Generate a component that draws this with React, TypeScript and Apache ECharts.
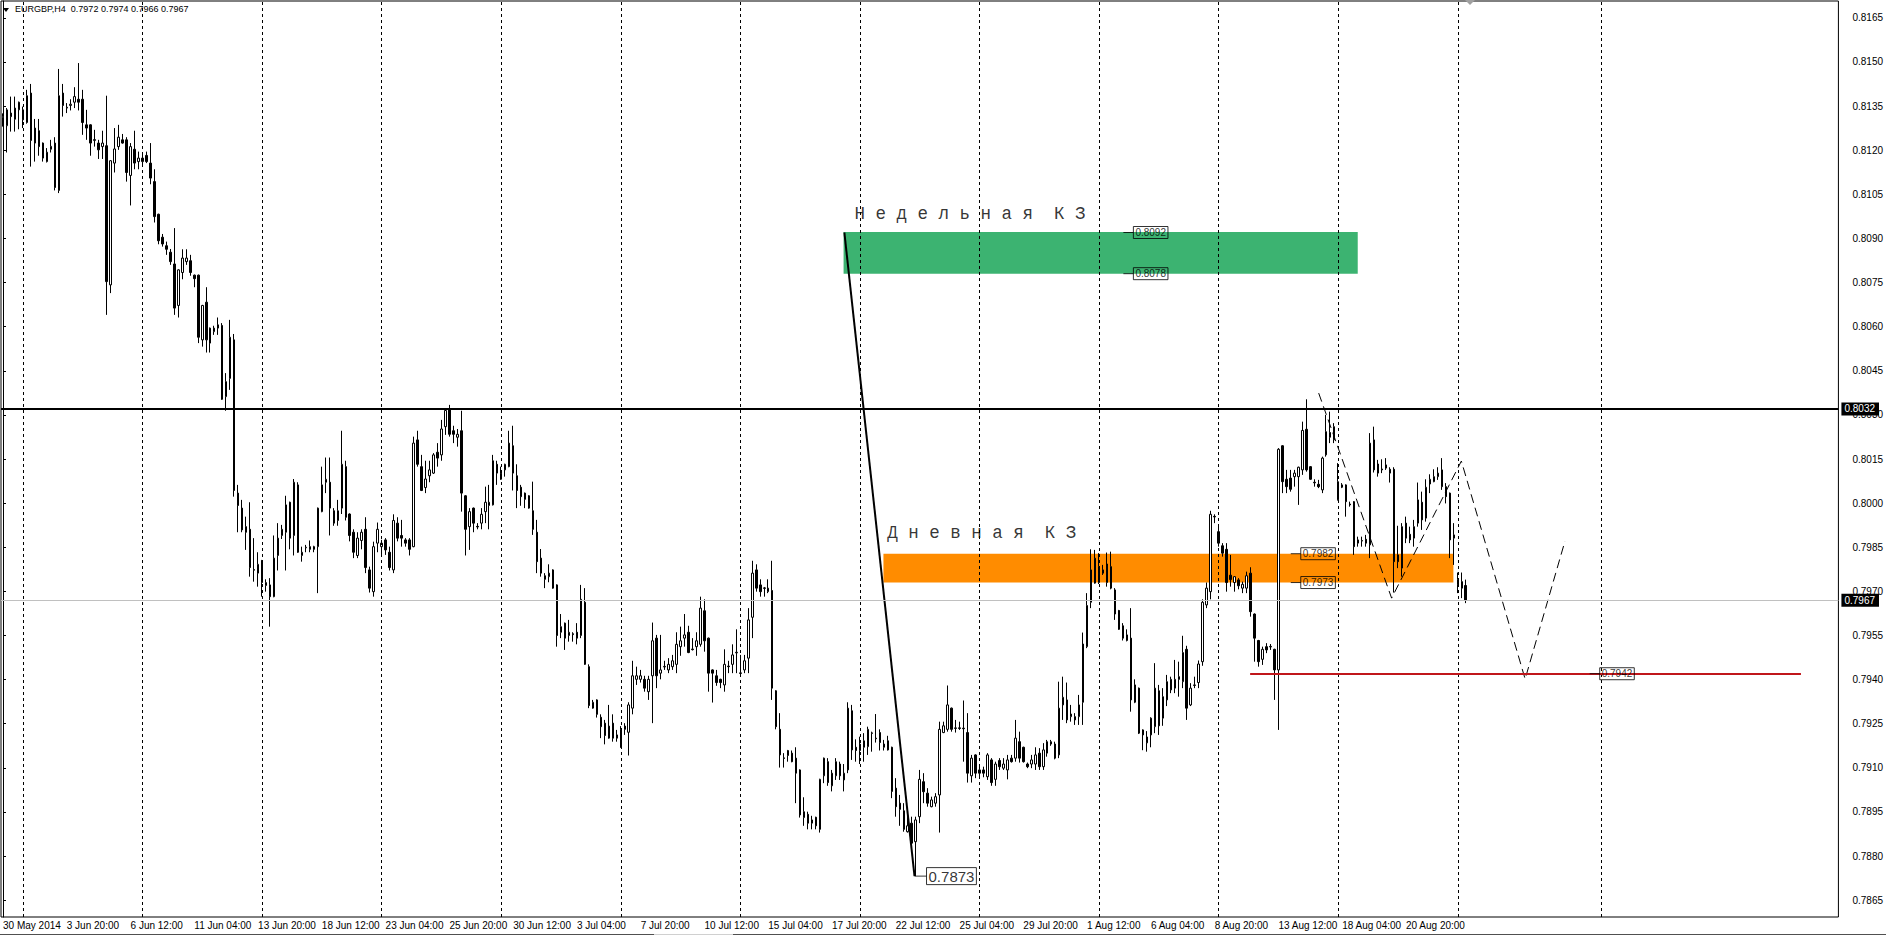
import React, { useEffect, useRef } from "react";
import * as echarts from "echarts";

// EURGBP H4 bars, [open, high, low, close] in pips (price x 10000), first bar 30 May 2014 04:00
const bars: number[][] = [
  [8131, 8132.5, 8128, 8131.5], [8128.3, 8134.3, 8119.2, 8133.7], [8132.6, 8138.2, 8126.3, 8131.4], [8130.5, 8138.2, 8126.3, 8134.3],
  [8133.7, 8136.5, 8127.1, 8136.3], [8133.7, 8134.8, 8127.5, 8130.3], [8129.4, 8140.5, 8129.0, 8138.5], [8139.4, 8142.5, 8114.4, 8123.3],
  [8122.4, 8130.6, 8116.1, 8127.5], [8126.6, 8130.6, 8118.1, 8121.2], [8122.4, 8122.6, 8116.1, 8117.3], [8116.1, 8120.7, 8115.8, 8119.3],
  [8120.3, 8123.5, 8119.2, 8121.3], [8122.4, 8124.4, 8106.3, 8107.3], [8106.3, 8147.6, 8105.4, 8138.5], [8139.4, 8142.5, 8131.4, 8135.2],
  [8134.3, 8136.0, 8132.6, 8134.6], [8135.2, 8137.3, 8133.5, 8135.6], [8136.3, 8141.4, 8134.3, 8138.2], [8137.3, 8149.6, 8133.5, 8136.3],
  [8137.3, 8140.5, 8125.2, 8129.4], [8128.6, 8133.7, 8123.5, 8127.5], [8128.6, 8128.8, 8118.1, 8122.4], [8123.3, 8126.9, 8121.2, 8123.6],
  [8122.4, 8123.5, 8117.0, 8120.1], [8121.2, 8126.6, 8117.0, 8122.4], [8121.5, 8138.5, 8064.0, 8075.3], [8074.2, 8116.6, 8071.4, 8116.4],
  [8115.6, 8127.5, 8112.4, 8120.4], [8121.2, 8128.6, 8120.1, 8124.4], [8123.5, 8125.5, 8122.2, 8122.4], [8123.5, 8124.4, 8109.3, 8112.4],
  [8111.4, 8122.4, 8101.2, 8121.2], [8120.3, 8126.6, 8113.5, 8115.6], [8116.1, 8119.5, 8113.5, 8117.3], [8116.1, 8118.4, 8115.2, 8117.3],
  [8118.2, 8119.5, 8115.6, 8116.1], [8115.6, 8122.4, 8108.4, 8110.5], [8109.3, 8113.5, 8095.4, 8097.4], [8098.2, 8098.4, 8088.0, 8089.2],
  [8090.4, 8091.5, 8087.2, 8088.1], [8087.5, 8088.9, 8084.4, 8086.3], [8085.3, 8086.4, 8081.0, 8082.1], [8081.3, 8093.5, 8064.0, 8066.3],
  [8067.2, 8079.5, 8063.1, 8079.3], [8078.4, 8086.3, 8076.1, 8083.3], [8082.1, 8086.3, 8081.0, 8083.3], [8082.4, 8084.4, 8077.3, 8078.4],
  [8077.5, 8077.7, 8073.4, 8076.3], [8077.5, 8077.7, 8054.4, 8056.4], [8055.5, 8067.4, 8053.2, 8067.2], [8068.3, 8073.4, 8051.2, 8055.5],
  [8054.4, 8059.7, 8051.2, 8059.5], [8058.3, 8060.3, 8057.2, 8059.5], [8060.6, 8063.1, 8057.2, 8059.5], [8060.4, 8061.2, 8035.1, 8035.3],
  [8036.2, 8044.2, 8031.4, 8041.3], [8042.4, 8062.3, 8038.5, 8056.4], [8055.5, 8057.5, 8002.2, 8004.3], [8003.4, 8006.2, 7990.1, 7999.2],
  [7998.3, 8001.1, 7990.1, 7990.9], [7992.0, 7995.4, 7984.1, 7990.1], [7991.1, 8000.3, 7975.0, 7978.1], [7977.4, 7988.1, 7973.3, 7977.2],
  [7976.2, 7983.3, 7971.6, 7979.2], [7980.4, 7980.7, 7968.2, 7973.0], [7972.0, 7974.1, 7969.9, 7973.0], [7972.2, 7974.5, 7958.0, 7968.2],
  [7968.2, 7989.0, 7968.0, 7981.3], [7982.2, 7993.2, 7977.1, 7988.1], [7989.0, 7992.6, 7987.8, 7991.1], [7990.1, 8002.5, 7977.1, 7999.4],
  [8000.3, 8000.5, 7984.3, 7988.1], [7989.0, 8008.2, 7982.2, 8007.1], [8006.2, 8007.1, 7983.1, 7983.3], [7982.2, 7985.2, 7980.1, 7983.3],
  [7984.8, 7985.8, 7983.3, 7985.0], [7985.2, 7987.3, 7983.3, 7984.3], [7985.2, 7985.5, 7983.3, 7984.3], [7985.2, 7998.5, 7969.4, 7998.3],
  [7997.1, 8012.4, 7996.9, 8006.2], [8007.1, 8015.5, 8003.4, 8008.1], [8007.1, 8015.5, 7989.0, 7998.3], [7997.4, 7998.3, 7992.3, 7993.2],
  [7994.1, 8001.1, 7992.3, 7997.4], [7998.3, 8024.6, 7996.3, 8013.2], [8012.4, 8014.4, 7994.1, 7995.2], [7996.3, 7996.5, 7987.0, 7989.0],
  [7990.1, 7991.1, 7981.3, 7983.3], [7982.2, 7990.1, 7981.3, 7988.1], [7987.3, 7991.1, 7984.3, 7990.1], [7991.1, 7995.2, 7976.2, 7978.1],
  [7977.3, 7978.4, 7969.6, 7971.1], [7969.9, 7986.9, 7968.2, 7985.2], [7986.4, 7993.4, 7983.3, 7991.1], [7985.2, 7987.5, 7982.4, 7986.4],
  [7987.5, 7988.1, 7982.4, 7984.1], [7983.3, 7985.2, 7977.1, 7978.1], [7977.3, 7996.2, 7976.2, 7994.1], [7993.2, 7995.2, 7987.0, 7988.1],
  [7989.0, 7994.3, 7985.2, 7988.1], [7987.5, 7988.1, 7985.2, 7986.4], [7987.5, 7988.1, 7982.2, 7984.3], [7985.2, 8022.6, 7985.0, 8020.4],
  [8021.5, 8024.6, 8012.4, 8013.2], [8012.4, 8016.4, 8004.1, 8004.3], [8005.3, 8014.4, 8003.4, 8008.2], [8009.3, 8014.4, 8007.1, 8011.3],
  [8010.2, 8017.0, 8009.9, 8016.4], [8017.3, 8020.4, 8012.4, 8015.3], [8016.4, 8028.3, 8014.4, 8025.2], [8026.0, 8032.3, 8023.2, 8031.5],
  [8031.7, 8033.4, 8022.6, 8023.4], [8024.6, 8026.3, 8020.4, 8023.4], [8022.4, 8025.2, 8019.2, 8023.4], [8024.6, 8031.4, 7997.1, 8003.4],
  [8002.5, 8002.7, 7982.2, 7991.1], [7992.0, 7998.3, 7984.1, 7997.1], [7998.3, 7998.5, 7990.1, 7993.2], [7992.1, 7993.2, 7991.1, 7991.9],
  [7993.2, 7998.3, 7991.1, 7996.2], [7997.1, 8005.6, 7993.2, 8000.3], [7999.2, 8006.2, 7991.1, 8000.3], [7999.4, 8016.4, 7999.2, 8014.4],
  [8013.2, 8014.4, 8006.2, 8010.2], [8008.1, 8012.4, 8007.9, 8010.2], [8011.3, 8013.4, 8009.0, 8013.2], [8012.4, 8024.6, 8012.2, 8020.4],
  [8019.5, 8026.3, 8004.3, 8010.2], [8009.3, 8013.2, 7998.3, 8004.3], [8005.4, 8006.2, 7999.1, 8002.2], [8003.4, 8003.6, 7998.3, 8001.3],
  [8002.5, 8002.7, 7998.1, 7998.3], [7997.4, 8007.3, 7989.2, 7991.1], [7990.1, 7994.3, 7976.2, 7980.1], [7981.3, 7984.4, 7975.0, 7976.2],
  [7975.3, 7976.2, 7971.1, 7974.1], [7975.0, 7979.2, 7973.1, 7976.2], [7977.3, 7977.5, 7970.9, 7971.1], [7972.2, 7972.4, 7951.2, 7955.0],
  [7956.1, 7962.3, 7954.1, 7958.0], [7959.2, 7959.4, 7950.1, 7954.1], [7955.0, 7960.3, 7952.9, 7956.1], [7955.6, 7956.1, 7952.9, 7955.3],
  [7956.1, 7959.2, 7952.0, 7954.1], [7955.0, 7972.2, 7954.1, 7967.3], [7966.3, 7971.1, 7945.0, 7945.2], [7944.4, 7945.2, 7930.3, 7931.2],
  [7930.3, 7933.1, 7930.1, 7932.3], [7933.1, 7933.3, 7927.1, 7928.2], [7927.2, 7928.2, 7920.1, 7924.0], [7925.2, 7926.3, 7918.0, 7921.0],
  [7920.1, 7931.4, 7919.9, 7924.2], [7925.2, 7928.2, 7918.9, 7920.1], [7921.2, 7922.9, 7918.9, 7920.1], [7917.0, 7924.2, 7916.8, 7923.1],
  [7924.2, 7925.2, 7921.2, 7923.1], [7922.1, 7932.3, 7914.2, 7931.4], [7930.3, 7946.4, 7928.2, 7941.3], [7940.1, 7944.4, 7938.2, 7941.3],
  [7940.1, 7943.3, 7939.0, 7941.3], [7940.1, 7941.3, 7935.9, 7937.1], [7935.9, 7941.3, 7933.1, 7940.1], [7941.3, 7959.4, 7925.2, 7953.2],
  [7954.1, 7955.2, 7937.1, 7941.3], [7942.2, 7955.2, 7940.1, 7943.3], [7944.3, 7946.4, 7943.3, 7944.5], [7943.3, 7947.3, 7942.2, 7945.2],
  [7944.4, 7948.4, 7943.3, 7946.4], [7945.2, 7956.1, 7942.2, 7952.0], [7951.2, 7958.0, 7948.1, 7953.2], [7954.1, 7962.3, 7951.2, 7955.2],
  [7956.1, 7958.3, 7949.0, 7949.2], [7950.4, 7954.1, 7949.9, 7950.2], [7951.2, 7956.1, 7948.1, 7953.2], [7952.0, 7968.2, 7951.2, 7964.3],
  [7963.4, 7967.3, 7949.5, 7953.2], [7954.1, 7954.3, 7935.9, 7942.2], [7943.3, 7943.5, 7932.2, 7942.2], [7941.3, 7943.3, 7937.9, 7939.0],
  [7940.1, 7940.3, 7937.1, 7939.0], [7938.2, 7950.3, 7935.9, 7945.2], [7944.6, 7946.4, 7942.2, 7944.4], [7945.2, 7952.0, 7942.2, 7948.4],
  [7949.1, 7957.1, 7942.2, 7949.3], [7942.1, 7948.4, 7941.0, 7942.3], [7943.3, 7948.4, 7942.2, 7946.4], [7947.3, 7964.3, 7942.2, 7960.3],
  [7961.2, 7980.4, 7954.1, 7976.2], [7977.3, 7979.2, 7969.9, 7971.1], [7972.2, 7974.1, 7968.2, 7969.9], [7971.0, 7971.5, 7968.2, 7971.2],
  [7969.9, 7974.1, 7969.4, 7971.1], [7970.3, 7980.4, 7933.1, 7937.1], [7936.2, 7936.4, 7923.1, 7924.0], [7923.1, 7928.6, 7910.1, 7914.4],
  [7913.4, 7915.0, 7910.1, 7913.2], [7914.2, 7916.1, 7912.1, 7915.9], [7915.0, 7915.9, 7911.9, 7912.1], [7913.3, 7917.0, 7898.0, 7908.2],
  [7909.3, 7909.5, 7893.1, 7894.0], [7893.1, 7900.0, 7890.3, 7895.1], [7894.2, 7895.1, 7889.1, 7891.2], [7891.2, 7893.7, 7889.1, 7892.3],
  [7893.2, 7893.4, 7889.1, 7890.3], [7889.1, 7906.3, 7888.0, 7906.1], [7907.3, 7913.5, 7904.8, 7913.3], [7912.1, 7913.3, 7903.9, 7905.0],
  [7903.9, 7909.3, 7902.0, 7908.2], [7907.3, 7913.3, 7905.9, 7912.1], [7911.3, 7912.1, 7905.9, 7907.3], [7905.9, 7911.3, 7902.0, 7908.2],
  [7909.3, 7932.3, 7908.2, 7930.3], [7929.4, 7931.4, 7912.7, 7916.1], [7917.0, 7919.7, 7912.1, 7915.9], [7915.9, 7920.6, 7911.3, 7918.1],
  [7917.0, 7921.8, 7912.1, 7919.2], [7917.2, 7924.0, 7914.4, 7923.1], [7921.7, 7922.3, 7915.5, 7921.9], [7920.1, 7928.3, 7918.6, 7919.9],
  [7922.0, 7923.1, 7915.9, 7918.6], [7917.0, 7919.5, 7915.9, 7918.1], [7919.2, 7920.9, 7915.9, 7916.1], [7917.0, 7917.2, 7899.7, 7902.0],
  [7903.1, 7906.5, 7893.4, 7896.8], [7898.0, 7900.8, 7890.3, 7895.9], [7895.4, 7898.0, 7888.3, 7889.1], [7888.3, 7894.6, 7888.0, 7890.3],
  [7891.2, 7893.4, 7883.8, 7884.4], [7884.9, 7893.4, 7873.2, 7892.3], [7893.4, 7909.3, 7891.2, 7906.1], [7905.3, 7908.2, 7898.0, 7901.9],
  [7901.4, 7903.1, 7896.8, 7898.0], [7896.8, 7900.2, 7896.6, 7899.1], [7898.0, 7901.4, 7896.8, 7900.2], [7900.8, 7925.7, 7888.0, 7923.1],
  [7922.0, 7925.7, 7921.8, 7924.3], [7923.1, 7938.0, 7922.3, 7931.4], [7930.3, 7930.5, 7922.3, 7923.1], [7923.4, 7926.3, 7922.0, 7923.6],
  [7923.6, 7925.7, 7922.9, 7923.4], [7923.5, 7932.9, 7912.1, 7923.3], [7922.0, 7928.6, 7905.0, 7908.2], [7907.3, 7914.4, 7905.0, 7913.3],
  [7914.4, 7914.6, 7906.5, 7908.2], [7909.3, 7910.4, 7907.0, 7908.2], [7909.3, 7910.4, 7906.8, 7908.2], [7907.0, 7915.0, 7905.9, 7914.4],
  [7912.7, 7913.3, 7903.9, 7905.0], [7906.1, 7912.1, 7903.9, 7911.3], [7912.5, 7913.3, 7909.3, 7910.4], [7909.9, 7913.3, 7909.3, 7911.3],
  [7909.3, 7914.4, 7906.1, 7912.7], [7913.3, 7914.4, 7911.8, 7912.1], [7913.3, 7926.3, 7912.1, 7920.1], [7918.9, 7922.3, 7911.8, 7913.3],
  [7917.0, 7917.2, 7911.8, 7912.1], [7911.3, 7911.8, 7909.9, 7910.4], [7911.3, 7914.4, 7909.9, 7912.7], [7911.3, 7917.0, 7909.3, 7914.4],
  [7915.0, 7916.7, 7909.3, 7910.4], [7910.4, 7918.4, 7909.3, 7916.1], [7915.0, 7919.5, 7913.8, 7918.9], [7918.1, 7919.5, 7917.5, 7918.9],
  [7918.1, 7918.9, 7912.9, 7913.3], [7914.4, 7939.3, 7913.3, 7930.3], [7931.4, 7941.0, 7926.3, 7934.0], [7933.1, 7939.0, 7925.2, 7926.3],
  [7927.4, 7931.4, 7925.7, 7928.3], [7927.4, 7928.6, 7924.6, 7926.3], [7927.4, 7934.8, 7924.6, 7931.4], [7932.3, 7956.0, 7924.6, 7952.1],
  [7951.2, 7969.4, 7950.7, 7965.2], [7966.3, 7984.3, 7964.3, 7977.3], [7972.8, 7984.1, 7972.6, 7981.3], [7973.0, 7983.0, 7972.5, 7978.4],
  [7977.3, 7979.0, 7975.6, 7976.2], [7973.0, 7983.2, 7971.6, 7979.3], [7978.4, 7983.5, 7970.7, 7971.1], [7970.5, 7971.1, 7960.3, 7962.3],
  [7963.5, 7963.7, 7956.9, 7957.1], [7958.3, 7959.2, 7953.3, 7954.1], [7953.3, 7957.1, 7953.0, 7955.2], [7954.1, 7964.3, 7929.1, 7933.1],
  [7932.3, 7940.1, 7932.0, 7938.2], [7937.1, 7937.3, 7921.5, 7921.8], [7922.9, 7923.1, 7916.0, 7921.2], [7918.5, 7922.5, 7915.5, 7920.5],
  [7921.2, 7927.2, 7917.0, 7926.9], [7924.0, 7945.6, 7921.8, 7937.1], [7936.2, 7938.2, 7921.2, 7924.3], [7926.9, 7937.1, 7924.3, 7934.2],
  [7933.1, 7941.6, 7931.0, 7939.3], [7936.5, 7941.0, 7935.4, 7940.1], [7937.1, 7946.7, 7935.4, 7940.1], [7941.0, 7946.1, 7934.2, 7940.1],
  [7939.3, 7954.9, 7937.1, 7949.2], [7950.3, 7951.5, 7926.3, 7930.3], [7931.4, 7938.8, 7931.0, 7937.1], [7938.0, 7941.0, 7937.1, 7938.2],
  [7939.0, 7946.5, 7937.1, 7945.3], [7946.1, 7967.3, 7944.7, 7966.3], [7965.4, 7973.0, 7964.3, 7971.1], [7969.9, 7997.4, 7967.3, 7996.2],
  [7995.5, 7996.2, 7993.2, 7995.3], [7990.3, 7992.0, 7985.2, 7986.4], [7985.5, 7986.4, 7981.8, 7983.0], [7984.3, 7986.4, 7969.9, 7973.0],
  [7975.5, 7982.4, 7971.6, 7974.0], [7973.0, 7975.2, 7969.9, 7975.0], [7973.9, 7974.5, 7970.7, 7971.9], [7971.1, 7973.3, 7969.4, 7972.4],
  [7971.1, 7976.7, 7969.4, 7975.3], [7976.2, 7978.2, 7961.4, 7963.1], [7962.3, 7962.5, 7946.1, 7954.1], [7953.3, 7953.5, 7944.4, 7946.1],
  [7946.9, 7951.2, 7945.0, 7950.3], [7951.2, 7952.4, 7949.0, 7950.1], [7951.1, 7952.1, 7950.1, 7951.3], [7950.3, 7950.5, 7933.1, 7943.3],
  [7943.3, 8018.7, 7922.9, 8018.3], [8019.5, 8019.7, 8003.4, 8007.3], [8008.1, 8011.3, 8003.4, 8005.6], [8008.5, 8011.3, 8003.9, 8004.7],
  [8009.0, 8011.3, 8005.6, 8010.2], [8009.0, 8012.4, 7999.4, 8012.2], [8011.3, 8027.7, 8009.6, 8024.7], [8025.1, 8035.3, 8010.7, 8011.3],
  [8012.4, 8012.6, 8007.9, 8008.1], [8007.1, 8008.1, 8005.6, 8006.9], [8006.4, 8007.9, 8005.1, 8005.6], [8004.5, 8015.8, 8003.4, 8015.3],
  [8016.4, 8030.0, 8015.8, 8024.3], [8024.0, 8031.1, 8020.4, 8022.4], [8021.5, 8027.2, 8020.4, 8026.0], [8001.1, 8013.6, 8000.9, 8007.3],
  [8006.2, 8006.8, 8005.1, 8005.4], [8006.2, 8006.4, 7995.4, 8000.5], [7999.7, 8000.5, 7998.8, 7999.4], [8000.5, 8000.7, 7982.4, 7985.2],
  [7986.4, 7988.6, 7985.2, 7987.5], [7987.1, 7988.6, 7985.2, 7987.3], [7987.7, 7989.2, 7985.2, 7986.4], [7985.8, 8023.8, 7981.3, 8020.4],
  [8021.5, 8026.0, 8010.4, 8011.3], [8010.2, 8014.7, 8009.0, 8013.3], [8011.3, 8014.9, 8010.2, 8011.6], [8013.0, 8015.3, 8011.3, 8011.9],
  [8011.5, 8012.2, 8007.0, 8010.2], [8011.5, 8012.2, 7969.6, 7980.1], [7982.4, 7992.3, 7977.9, 7980.1], [7977.9, 7993.2, 7975.0, 7992.0],
  [7993.2, 7995.4, 7986.4, 7988.1], [7989.4, 7992.0, 7986.4, 7987.5], [7988.1, 7994.3, 7985.2, 7992.0], [7993.2, 8007.0, 7992.0, 8001.1],
  [8000.3, 8003.9, 7990.9, 7994.3], [7994.9, 8008.1, 7993.7, 8005.4], [8006.5, 8009.8, 8003.4, 8008.1], [8007.3, 8011.5, 8007.1, 8009.0],
  [8009.0, 8012.2, 8007.9, 8010.2], [8011.3, 8015.3, 8004.5, 8005.6], [8005.6, 8006.8, 7999.9, 8002.2], [8003.4, 8003.6, 7981.3, 7987.5],
  [7988.1, 7993.2, 7979.0, 7989.2], [7972.2, 7976.4, 7969.4, 7974.1], [7973.3, 7976.4, 7967.7, 7971.1], [7972, 7974, 7966, 7967],
];

const SLOT_COUNT = 461; // bar slots on the time axis (real bars + right shift)
const LABEL_STEP = 16;
const timeLabels = [
  "30 May 2014", "3 Jun 20:00", "6 Jun 12:00", "11 Jun 04:00", "13 Jun 20:00", "18 Jun 12:00", "23 Jun 04:00",
  "25 Jun 20:00", "30 Jun 12:00", "3 Jul 04:00", "7 Jul 20:00", "10 Jul 12:00", "15 Jul 04:00", "17 Jul 20:00",
  "22 Jul 12:00", "25 Jul 04:00", "29 Jul 20:00", "1 Aug 12:00", "6 Aug 04:00", "8 Aug 20:00", "13 Aug 12:00",
  "18 Aug 04:00", "20 Aug 20:00",
];
const priceTicks = [
  0.7865, 0.788, 0.7895, 0.791, 0.7925, 0.794, 0.7955, 0.797, 0.7985, 0.8, 0.8015,
  0.803, 0.8045, 0.806, 0.8075, 0.809, 0.8105, 0.812, 0.8135, 0.815, 0.8165,
];
const weekSeparators = [5, 35, 65, 95, 125, 155, 185, 215, 245, 275, 305, 335, 365, 401];
const weeklyZone = [210.9, 339.9, 0.80922, 0.8078];
const dailyZone = [220.9, 363.9, 0.79828, 0.7973];
const resistanceLevel = 0.8032;
const bidLevel = 0.7967;
const targetLine = [312.9, 451.1, 0.7942];
const trendLine = [[211.1, 0.8092], [228.7, 0.78732]];
const projectionPath = [[330.1, 0.80374], [348.4, 0.79677], [365.9, 0.80143], [381.9, 0.79402], [391.9, 0.79871]];
const priceTags: [number, number, string][] = [
  [281.1, 0.8092, "0.8092"], [281.1, 0.8078, "0.8078"], [323.1, 0.79828, "0.7982"],
  [323.1, 0.7973, "0.7973"], [398.1, 0.7942, "0.7942"],
];
const lowTag: [number, number, string] = [228.7, 0.78732, "0.7873"];
const zoneTitles: [number, number, string][] = [
  [213.5, 0.80983, "Н е д е л ь н а я  К З"],
  [221.75, 0.79898, "Д н е в н а я  К З"],
];

const SANS = '"Liberation Sans", Arial, sans-serif';

export default function App() {
  const ref = useRef<HTMLDivElement>(null);
  useEffect(() => {
    if (!ref.current) return;
    const chart = echarts.init(ref.current, null, { renderer: "svg" });
    const slots = Array.from({ length: SLOT_COUNT }, (_, i) => String(i));
    const candles = bars.map(([o, h, l, c]) => [o / 1e4, c / 1e4, l / 1e4, h / 1e4]);
    const last = bars[bars.length - 1];
    const header = "EURGBP,H4  " + last.map((v) => (v / 1e4).toFixed(4)).join(" ");

    const tagItem = (x: number, y: number, text: string, len: number, fs: number) => ({
      value: [x, y],
      symbol: "rect",
      symbolSize: [len, 1],
      symbolOffset: [len / 2, 0],
      itemStyle: { color: "#000" },
      label: {
        show: true,
        position: "right",
        distance: 0,
        formatter: text,
        color: "#000",
        fontSize: fs,
        fontFamily: SANS,
        borderColor: "#000",
        borderWidth: 1,
        padding: [1, 2, 0, 2],
        lineHeight: fs + 1,
      },
    });

    const axisTag = (text: string) => ({
      show: true,
      position: "end",
      distance: 3,
      formatter: text,
      color: "#fff",
      backgroundColor: "#000",
      padding: [2, 4, 1, 3],
      fontSize: 10,
      fontFamily: SANS,
    });

    chart.setOption({
      animation: false,
      backgroundColor: "#fff",
      grid: { left: -2.5, top: 1, width: SLOT_COUNT * 4, height: 916, show: true, borderColor: "#000", borderWidth: 1, backgroundColor: "transparent" },
      xAxis: [
        {
          type: "category",
          data: slots,
          boundaryGap: true,
          axisLine: { show: false },
          axisTick: { show: false },
          splitLine: { show: false },
          axisLabel: {
            interval: (idx: number) => idx % LABEL_STEP === 0 && idx / LABEL_STEP < timeLabels.length,
            formatter: (_v: string, idx: number) => timeLabels[idx / LABEL_STEP] ?? "",
            align: "left",
            margin: 3,
            fontSize: 10,
            fontFamily: SANS,
            color: "#000",
          },
        },
        { type: "value", min: -0.5, max: SLOT_COUNT - 0.5, show: false },
      ],
      yAxis: {
        type: "value",
        position: "right",
        min: 0.78593,
        max: 0.81707,
        splitLine: { show: false },
        axisLine: { show: true, lineStyle: { color: "#000" } },
        axisTick: { show: true, length: 3, customValues: priceTicks, lineStyle: { color: "#000" } },
        axisLabel: {
          customValues: priceTicks,
          formatter: (v: number) => v.toFixed(4),
          margin: 14,
          fontSize: 10,
          fontFamily: SANS,
          color: "#000",
        },
      },
      series: [
        {
          type: "line",
          xAxisIndex: 1,
          data: [],
          z: 1,
          silent: true,
          markArea: {
            silent: true,
            data: [
              [{ coord: [weeklyZone[0], weeklyZone[2]], itemStyle: { color: "#3CB371", opacity: 1 } }, { coord: [weeklyZone[1], weeklyZone[3]] }],
              [{ coord: [dailyZone[0], dailyZone[2]], itemStyle: { color: "#FF8C00", opacity: 1 } }, { coord: [dailyZone[1], dailyZone[3]] }],
            ],
          },
        },
        {
          type: "line",
          xAxisIndex: 1,
          data: [],
          z: 2,
          silent: true,
          markLine: {
            silent: true,
            precision: 5,
            symbol: ["none", "none"],
            label: { show: false },
            lineStyle: { color: "#000", width: 1, type: [3, 3] },
            data: weekSeparators.map((x) => ({ xAxis: x })),
          },
        },
        {
          type: "candlestick",
          z: 3,
          data: candles,
          barWidth: 2,
          itemStyle: { color: "#fff", color0: "#000", borderColor: "#000", borderColor0: "#000", borderColorDoji: "#000", borderWidth: 1 },
        },
        {
          type: "line",
          xAxisIndex: 1,
          z: 4,
          data: trendLine,
          symbol: "none",
          silent: true,
          lineStyle: { color: "#000", width: 2 },
          markLine: {
            silent: true,
            precision: 5,
            symbol: ["none", "none"],
            data: [
              { yAxis: bidLevel, lineStyle: { color: "#C0C0C0", width: 1, type: "solid" }, label: axisTag(bidLevel.toFixed(4)) },
              { yAxis: resistanceLevel, lineStyle: { color: "#000", width: 2, type: "solid" }, label: axisTag(resistanceLevel.toFixed(4)) },
              [
                { coord: [targetLine[0], targetLine[2]], lineStyle: { color: "#C0161B", width: 2, type: "solid" }, label: { show: false } },
                { coord: [targetLine[1], targetLine[2]] },
              ],
            ],
          },
        },
        {
          type: "line",
          xAxisIndex: 1,
          z: 4,
          data: projectionPath,
          symbol: "none",
          silent: true,
          lineStyle: { color: "#000", width: 1, type: [9, 5] },
        },
        {
          type: "scatter",
          xAxisIndex: 1,
          z: 5,
          silent: true,
          data: [
            ...priceTags.map(([x, y, t]) => tagItem(x, y, t, 10, 10)),
            tagItem(lowTag[0], lowTag[1], lowTag[2], 12, 15),
            ...zoneTitles.map(([x, y, t]) => ({
              value: [x, y],
              symbolSize: 1,
              itemStyle: { color: "transparent" },
              label: { show: true, position: "right", distance: 0, formatter: t, color: "#000", fontSize: 17.5, fontFamily: '"Liberation Mono", monospace' },
            })),
          ],
        },
      ],
      graphic: [
        { type: "polygon", shape: { points: [[3, 8], [9, 8], [6, 12]] }, style: { fill: "#000" } },
        { type: "text", x: 15, y: 4, style: { text: header, font: '9px "Liberation Sans", Arial, sans-serif', fill: "#000" } },
        { type: "polygon", shape: { points: [[1465, 0], [1475, 0], [1470, 5]] }, style: { fill: "#A0A0A0" } },
        { type: "line", shape: { x1: 0, y1: 934.5, x2: 654, y2: 934.5 }, style: { stroke: "#505050", lineWidth: 1 } },
        { type: "line", shape: { x1: 654, y1: 934.5, x2: 733, y2: 934.5 }, style: { stroke: "#D0D0D0", lineWidth: 1 } },
        { type: "line", shape: { x1: 733, y1: 934.5, x2: 1886, y2: 934.5 }, style: { stroke: "#505050", lineWidth: 1 } },
      ],
    });
    return () => chart.dispose();
  }, []);
  return <div ref={ref} style={{ position: "fixed", left: 0, top: 0, width: 1886, height: 936, background: "#fff" }} />;
}
